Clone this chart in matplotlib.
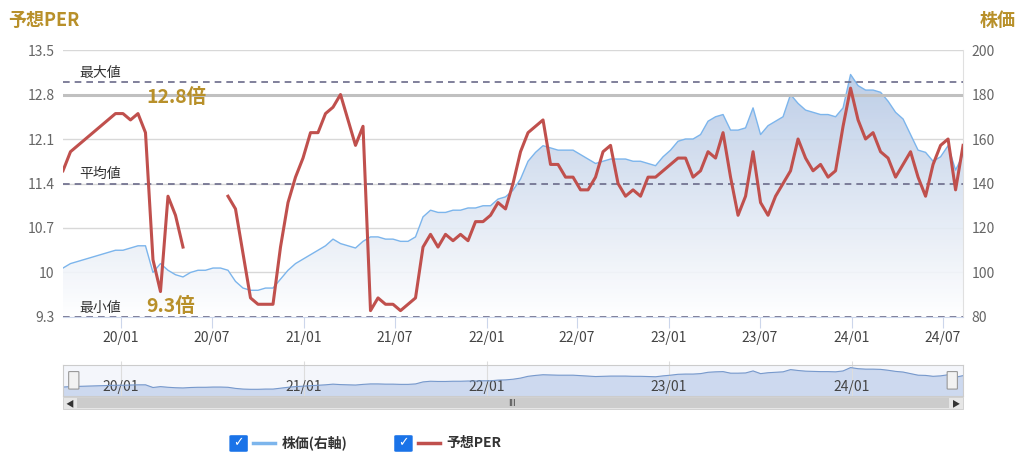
import numpy as np
import pandas as pd
import matplotlib.pyplot as plt
import matplotlib.dates as mdates
from matplotlib.colors import LinearSegmentedColormap
from matplotlib.patches import FancyBboxPatch, Rectangle

plt.rcParams['font.family'] = ['Noto Sans CJK JP', 'DejaVu Sans']

# Datos (cada 15 días)
fechas = pd.date_range('2019-09-07', periods=121, freq='15D')
per = [11.6, 11.9, 12.0, 12.1, 12.2, 12.3, 12.4, 12.5, 12.5, 12.4,
       12.5, 12.2, 10.2, 9.7, 11.2, 10.9, 10.4, np.nan, np.nan, np.nan,
       np.nan, np.nan, 11.2, 11.0, 10.3, 9.6, 9.5, 9.5, 9.5, 10.4,
       11.1, 11.5, 11.8, 12.2, 12.2, 12.5, 12.6, 12.8, 12.4, 12.0,
       12.3, 9.4, 9.6, 9.5, 9.5, 9.4, 9.5, 9.6, 10.4, 10.6,
       10.4, 10.6, 10.5, 10.6, 10.5, 10.8, 10.8, 10.9, 11.1, 11.0,
       11.4, 11.9, 12.2, 12.3, 12.4, 11.7, 11.7, 11.5, 11.5, 11.3,
       11.3, 11.5, 11.9, 12.0, 11.4, 11.2, 11.3, 11.2, 11.5, 11.5,
       11.6, 11.7, 11.8, 11.8, 11.5, 11.6, 11.9, 11.8, 12.2, 11.5,
       10.9, 11.2, 11.9, 11.1, 10.9, 11.2, 11.4, 11.6, 12.1, 11.8,
       11.6, 11.7, 11.5, 11.6, 12.3, 12.9, 12.4, 12.1, 12.2, 11.9,
       11.8, 11.5, 11.7, 11.9, 11.5, 11.2, 11.7, 12.0, 12.1, 11.3,
       12.0]
precio = [102, 104, 105, 106, 107, 108, 109, 110, 110, 111,
          112, 112, 100, 104, 101, 99, 98, 100, 101, 101,
          102, 102, 101, 96, 93, 92, 92, 93, 93, 97,
          101, 104, 106, 108, 110, 112, 115, 113, 112, 111,
          114, 116, 116, 115, 115, 114, 114, 116, 125, 128,
          127, 127, 128, 128, 129, 129, 130, 130, 133, 134,
          137, 142, 150, 154, 157, 156, 155, 155, 155, 153,
          151, 149, 150, 151, 151, 151, 150, 150, 149, 148,
          152, 155, 159, 160, 160, 162, 168, 170, 171, 164,
          164, 165, 174, 162, 166, 168, 170, 180, 176, 173,
          172, 171, 171, 170, 174, 189, 184, 182, 182, 181,
          177, 172, 169, 162, 155, 154, 150, 152, 157, 146,
          153]
per_max, per_med, per_min = 13.0, 11.4, 9.3
per_ref = 12.8
yticks_izq = [9.3, 10, 10.7, 11.4, 12.1, 12.8, 13.5]
yticks_der = [80, 100, 120, 140, 160, 180, 200]
xticks = pd.to_datetime(['2020-01-01', '2020-07-01', '2021-01-01', '2021-07-01', '2022-01-01',
                         '2022-07-01', '2023-01-01', '2023-07-01', '2024-01-01', '2024-07-01'])
xlabels = ['20/01', '20/07', '21/01', '21/07', '22/01', '22/07', '23/01', '23/07', '24/01', '24/07']

gold = '#b8902a'
azul = '#7cb5ec'
rojo = '#c0504d'
gris = '#666666'

fig = plt.figure(figsize=(10.24, 4.61), dpi=100)
ax = fig.add_axes([0.0615, 0.3124, 0.879, 0.5791])
ax2 = ax.twinx()

# precio con relleno degradado
ax2.plot(fechas, precio, color=azul, lw=1.0, zorder=2)
fill = ax2.fill_between(fechas, precio, 80, color='none')
grad = np.linspace(0.85, 0.0, 256).reshape(-1, 1)
x0, x1 = mdates.date2num(fechas[0]), mdates.date2num(fechas[-1])
img = ax2.imshow(grad, extent=[x0, x1, 80, 190], aspect='auto', origin='upper',
                 cmap=LinearSegmentedColormap.from_list('g', ['#ffffff', '#a9bfe0']),
                 vmin=0, vmax=1, zorder=1, alpha=0.9)
img.set_clip_path(fill.get_paths()[0], transform=ax2.transData)
ax2.set_ylim(80, 200)
ax2.set_yticks(yticks_der)
ax2.tick_params(axis='y', length=0, labelsize=10, labelcolor=gris, pad=6)

ax.set_zorder(ax2.get_zorder() + 1)
ax.patch.set_visible(False)
ax.plot(fechas, per, color=rojo, lw=2.2, zorder=5)
ax.set_ylim(9.3, 13.5)
ax.set_yticks(yticks_izq)
ax.set_yticklabels(['9.3', '10', '10.7', '11.4', '12.1', '12.8', '13.5'])
ax.tick_params(axis='y', length=0, labelsize=10, labelcolor=gris, pad=6)
ax.set_xlim(fechas[0], fechas[-1])
ax.set_xticks(xticks)
ax.set_xticklabels(xlabels)
ax.tick_params(axis='x', length=8, color='#ccd6eb', labelsize=10, labelcolor='#444444', pad=2)
for v in yticks_izq:
    ax2.axhline(80 + (v - 9.3) / 0.7 * 20, color='#d8d8d8', lw=1, zorder=0)
ax.axhline(per_ref, color='#c0c0c0', lw=2.2, zorder=3)
for v in [per_max, per_med, per_min]:
    ax.axhline(v, color='#6b6b8a', lw=1.2, ls=(0, (4, 3)), zorder=4)
for s in ['top', 'left', 'right']:
    ax.spines[s].set_visible(False)
    ax2.spines[s].set_visible(False)
ax.spines['bottom'].set_color('#ccd6eb')
ax2.spines['bottom'].set_visible(False)
ax2.spines['right'].set_visible(True)
ax2.spines['right'].set_color('#e0e0e0')

ytr = ax.get_yaxis_transform()
ax.text(0.018, per_max + 0.08, '最大値', transform=ytr, fontsize=10, color='#333333')
ax.text(0.018, per_med + 0.08, '平均値', transform=ytr, fontsize=10, color='#333333')
ax.text(0.018, per_min + 0.08, '最小値', transform=ytr, fontsize=10, color='#333333')
ax.text(0.093, per_ref - 0.04, '12.8倍', transform=ytr, fontsize=14,
        color=gold, fontweight='bold', va='center', zorder=6)
ax.text(0.093, per_min + 0.08, '9.3倍', transform=ytr, fontsize=14,
        color=gold, fontweight='bold', zorder=6)

fig.text(0.008, 0.955, '予想PER', fontsize=13, color=gold, fontweight='bold', va='center')
fig.text(0.992, 0.955, '株価', fontsize=13, color=gold, fontweight='bold', va='center', ha='right')

# navegador
nav = fig.add_axes([0.0615, 0.14, 0.879, 0.068])
nav.fill_between(fechas, precio, 60, color='#c9d6ee', alpha=0.9)
nav.plot(fechas, precio, color='#7799cc', lw=0.8)
nav.set_xlim(fechas[0], fechas[-1])
nav.set_ylim(60, 200)
nav.set_yticks([])
nav.set_xticks(xticks[::2])
nav.set_xticklabels(xlabels[::2])
nav.tick_params(axis='x', direction='in', pad=-12, labelsize=10, labelcolor='#444444', length=25, color='#dddddd')
nav.set_facecolor('#f4f6fb')
for s in nav.spines.values():
    s.set_color('#cccccc')
for xh in [0.012, 0.988]:
    fig.add_artist(FancyBboxPatch((0.0615 + 0.879 * xh - 0.004, 0.157), 0.008, 0.036, boxstyle='round,pad=0.001',
                                  fc='#f2f2f2', ec='#999999', lw=0.8, transform=fig.transFigure))
fig.add_artist(Rectangle((0.0615, 0.112), 0.879, 0.026, fc='#e6e6e6', ec='#cccccc', lw=0.6, transform=fig.transFigure))
fig.add_artist(Rectangle((0.075, 0.114), 0.852, 0.022, fc='#cccccc', ec='none', transform=fig.transFigure))
fig.text(0.5, 0.125, 'III', fontsize=6, ha='center', va='center', color='#333333')
fig.text(0.068, 0.125, '◀', fontsize=6, ha='center', va='center', color='#333333')
fig.text(0.934, 0.125, '▶', fontsize=6, ha='center', va='center', color='#333333')

# leyenda
for xc, col, lab in [(0.226, azul, '株価(右軸)'), (0.387, rojo, '予想PER')]:
    fig.add_artist(FancyBboxPatch((xc, 0.022), 0.014, 0.032, boxstyle='round,pad=0.002',
                                  fc='#1a73e8', ec='none', transform=fig.transFigure))
    fig.text(xc + 0.007, 0.039, '✓', fontsize=9, color='white', ha='center', va='center',
             fontweight='bold', family='DejaVu Sans')
    fig.add_artist(plt.Line2D([xc + 0.021, xc + 0.043], [0.04, 0.04], color=col, lw=2.5,
                              transform=fig.transFigure))
    fig.text(xc + 0.049, 0.04, lab, fontsize=10, fontweight='bold', color='#333333', va='center')

fig.savefig('out.png', dpi=100)
